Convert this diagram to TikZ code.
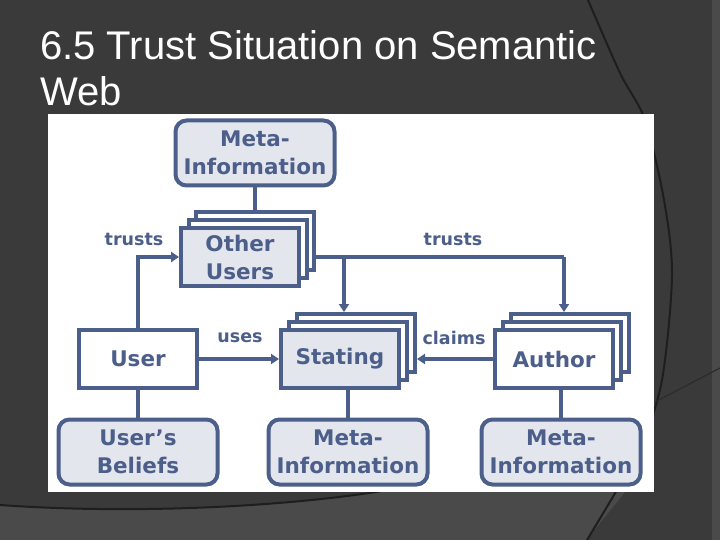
\documentclass[tikz,border=0pt]{standalone}
\usepackage{fontspec}
\newfontfamily\titlefont{Liberation Sans}
\newfontfamily\boxfont{DejaVu Sans}
\usetikzlibrary{arrows.meta}
\definecolor{slate}{RGB}{76,94,138}
\definecolor{boxgray}{RGB}{228,230,238}
\definecolor{slidebg}{RGB}{58,58,58}
\definecolor{slidelight}{RGB}{74,74,74}
\definecolor{slideline}{RGB}{30,30,30}

\begin{document}
\begin{tikzpicture}[x=1pt, y=-1pt,
        box/.style={draw=slate, line width=4pt, fill=white, minimum width=118pt, minimum height=58pt,
            inner sep=0pt, text=slate, align=center, font=\boxfont\bfseries\fontsize{21.5}{28}\selectfont},
        grey/.style={box, fill=boxgray},
        info/.style={grey, rounded corners=11pt, minimum width=159pt, minimum height=65pt},
        link/.style={draw=slate, line width=3.5pt},
        arr/.style={link, -{Triangle[length=8pt, width=10pt]}},
        lbl/.style={text=slate, inner sep=1pt, font=\boxfont\bfseries\fontsize{17.5}{20}\selectfont}]
    \useasboundingbox (0,0) rectangle (720,540);

    % Fond de la diapositive
    \fill[slidebg] (0,0) rectangle (720,540);
    \fill[slidelight] (0,505) .. controls (140,515) and (300,506) .. (400,488) -- (640,470)
        .. controls (625,495) and (605,515) .. (587,540) -- (0,540) -- cycle;
    \fill[slidelight] (712,0) rectangle (720,540);
    \draw[slideline, line width=2pt] (0,505) .. controls (140,515) and (300,506) .. (400,488);
    \draw[slideline, line width=2pt] plot[smooth] coordinates {(588,0) (620,73) (645,120) (664,200) (672,275) (662,380) (640,450) (614,495) (587,540)};
    \draw[slidebg!75!black, line width=1.2pt] (655,402) -- (720,368);

    % Titre
    \node[anchor=base west, align=left, inner sep=0pt, text=white, font=\titlefont\fontsize{40}{46}\selectfont] (title) at (40,106) {6.5 Trust Situation on Semantic\\Web};

    % Panneau blanc
    \fill[white] (48,114) rectangle (654,492);

    % Meta-information du haut
    \node[info] (meta) at (255,153) {Meta-\\Information};

    % Pile "Other Users"
    \node[box] (others3) at (255,241) {};
    \node[box] (others2) at (248,249) {};
    \node[grey] (others) at (240,257) {Other\\Users};

    % User
    \node[box] (user) at (138,359) {User};

    % Pile "Stating"
    \node[box] (stating3) at (356,343) {};
    \node[box] (stating2) at (348,351) {};
    \node[grey] (stating) at (340,359) {Stating};

    % Pile "Author"
    \node[box] (author3) at (570,343) {};
    \node[box] (author2) at (562,351) {};
    \node[box] (author) at (554,359) {Author};

    % Ligne du bas
    \node[info] (beliefs) at (138,452) {User’s\\Beliefs};
    \node[info] (smeta) at (348,452) {Meta-\\Information};
    \node[info] (ameta) at (561,452) {Meta-\\Information};

    % Liaisons
    \coordinate (fork) at (344,257);
    \coordinate (drop) at (564,257);
    \draw[link] (meta.south) -- (meta.south |- others3.north);
    \draw[arr] (user.north) |- (others.west);
    \draw[link] (others.east -| others3.east) -- (drop);
    \draw[arr] (fork) -- (fork |- stating3.north);
    \draw[arr] (drop) -- (drop |- author3.north);
    \draw[arr] (user.east) -- (stating.west);
    \draw[arr] (author.west) -- (author.west -| stating3.east);
    \draw[link] (user.south) -- (beliefs.north);
    \draw[link] (stating.south -| smeta.north) -- (smeta.north);
    \draw[link] (author.south -| ameta.north) -- (ameta.north);

    % Etiquettes
    \node[lbl] (trustl) at (134,239) {trusts};
    \node[lbl] (trustr) at (453,239) {trusts};
    \node[lbl] (uses) at (240,338) {uses};
    \node[lbl] (claims) at (454,338) {claims};
\end{tikzpicture}
\end{document}
